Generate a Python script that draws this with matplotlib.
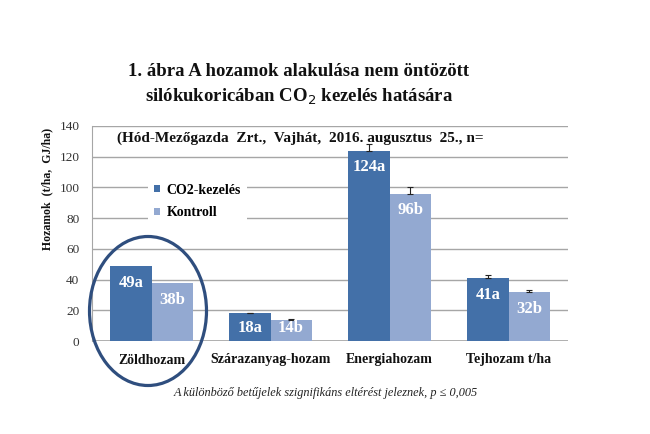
import matplotlib
matplotlib.use("Agg")
import matplotlib.pyplot as plt
from matplotlib.patches import Ellipse
import numpy as np

categories = ["Zöldhozam", "Szárazanyag-hozam", "Energiahozam", "Tejhozam t/ha"]
co2_values = [49, 18, 124, 41]
kontroll_values = [38, 14, 96, 32]
co2_err = [0, 0.4, 4.4, 2.0]
kontroll_err = [0, 0.4, 4.3, 1.0]
co2_labels = ["49a", "18a", "124a", "41a"]
kontroll_labels = ["38b", "14b", "96b", "32b"]
series_names = ["CO2-kezelés", "Kontroll"]

plt.rcParams["font.family"] = ["Liberation Serif", "DejaVu Serif"]

c_co2 = "#4370A8"
c_kon = "#93A9D1"

fig = plt.figure(figsize=(6.5, 4.34), dpi=100)
ax = fig.add_axes([92/650, 1-341/434, (568-92)/650, (341-126)/434])

x = np.arange(len(categories))
w = 0.345
ax.bar(x - w/2, co2_values, w, color=c_co2, label=series_names[0], zorder=3)
ax.bar(x + w/2, kontroll_values, w, color=c_kon, label=series_names[1], zorder=3)

for xs, vals, errs in [(x - w/2, co2_values, co2_err), (x + w/2, kontroll_values, kontroll_err)]:
    for xi, v, e in zip(xs, vals, errs):
        if e > 0:
            ax.errorbar(xi, v, yerr=[[0], [e]], fmt="none", ecolor="#222222",
                        elinewidth=0.8, capsize=2.5, capthick=0.8, zorder=4)

for xs, vals, labs in [(x - w/2, co2_values, co2_labels), (x + w/2, kontroll_values, kontroll_labels)]:
    for xi, v, lab in zip(xs, vals, labs):
        ypos = max(v - 11, 8.5)
        ax.text(xi, ypos, lab, ha="center", va="center", color="white",
                fontsize=12, fontweight="bold", zorder=5)

ax.set_xlim(-0.5, len(categories) - 0.5)
ax.set_ylim(0, 140)
ax.set_yticks(np.arange(0, 141, 20))
ax.yaxis.grid(True, color="#A6A6A6", linewidth=1.0, zorder=0)
ax.set_axisbelow(True)
for s in ["top", "right", "bottom"]:
    ax.spines[s].set_visible(False)
ax.spines["left"].set_color("#A6A6A6")
ax.axhline(0, color="#A6A6A6", linewidth=1.2, zorder=2)
ax.tick_params(axis="y", length=0, pad=9, labelsize=9.5, labelcolor="#333333")
ax.tick_params(axis="x", length=0, pad=9)
ax.set_xticks(x)
ax.set_xticklabels(categories, fontsize=10, fontweight="bold", color="#111111")

leg = ax.legend(loc="upper left", bbox_to_anchor=((148-92)/476, (341-178)/215),
                frameon=True, fontsize=10, handlelength=0.45, handleheight=0.45,
                handletextpad=0.5, borderpad=0.4, labelspacing=0.7, borderaxespad=0)
leg.get_frame().set_edgecolor("none")
leg.get_frame().set_facecolor("white")
leg.get_frame().set_alpha(1)
leg.get_frame().set_boxstyle("square", pad=0.0)
for t in leg.get_texts():
    t.set_fontweight("bold")
leg.set_zorder(6)

ax.text((117-92)/476, (341-138)/215, "(Hód-Mezőgazda  Zrt.,  Vajhát,  2016. augusztus  25., n=",
        transform=ax.transAxes, ha="left", va="center", fontsize=11, fontweight="bold",
        color="#111111", zorder=6)

ell = Ellipse((148/650, 1-311/434), 117/650, 149/434, transform=fig.transFigure,
              fill=False, edgecolor="#2F4E7E", linewidth=2.3, zorder=10)
fig.add_artist(ell)

fig.text(299/650, 1-72/434, "1. ábra A hozamok alakulása nem öntözött",
         ha="center", va="center", fontsize=13.5, fontweight="bold", color="#111111")
fig.text(299/650, 1-97/434, "silókukoricában CO$_2$ kezelés hatására",
         ha="center", va="center", fontsize=13.5, fontweight="bold", color="#111111")

fig.text(47/650, 1-189/434, "Hozamok  (t/ha,  GJ/ha)", rotation=90, ha="center", va="center",
         fontsize=8.5, fontweight="bold", color="#111111")

fig.text(326/650, 1-393/434, "A különböző betűjelek szignifikáns eltérést jeleznek, p ≤ 0,005",
         ha="center", va="center", fontsize=8.8, style="italic", color="#222222")

fig.savefig("out.png", dpi=100)
